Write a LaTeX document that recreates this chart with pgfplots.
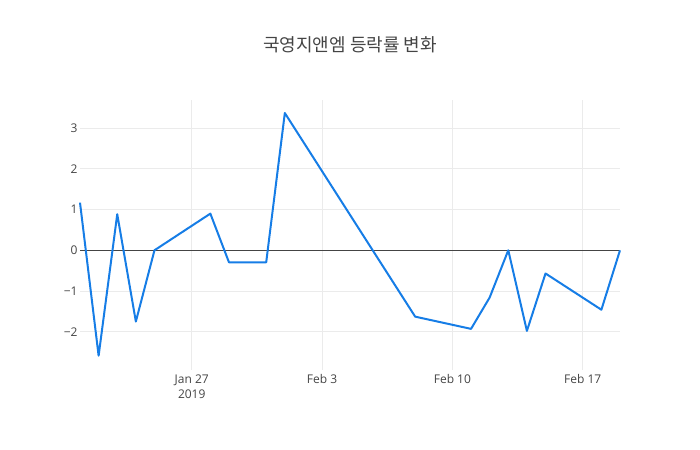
\documentclass[border=0pt]{standalone}
\usepackage{pgfplots}
\pgfplotsset{compat=1.18}
\usepackage{fontspec}
\setmainfont{Open Sans}
\newfontfamily\cjk{Noto Sans CJK KR}
\definecolor{linecol}{RGB}{22,125,230}
\definecolor{txt}{RGB}{68,68,68}
\definecolor{gridc}{RGB}{235,235,235}
\begin{document}
\begin{tikzpicture}[x=1bp,y=1bp]
\useasboundingbox (-80bp,-80bp) rectangle (620bp,370bp);
\node[font=\cjk\fontsize{18bp}{21bp}\selectfont, text=txt] at (270bp,325bp) {국영지앤엠 등락률 변화};
\begin{axis}[
  at={(0,0)}, anchor=south west,
  scale only axis, width=540bp, height=270bp,
  xmin=0, xmax=29, ymin=-2.94, ymax=3.69,
  axis line style={draw=none},
  tick style={draw=none},
  xtick={6,13,20,27},
  xticklabels={{Jan 27\\2019},{Feb 3},{Feb 10},{Feb 17}},
  xticklabel style={align=center, font=\fontsize{12bp}{15bp}\selectfont, text=txt, yshift=-1bp},
  ytick={-2,-1,0,1,2,3},
  yticklabels={−2,−1,0,1,2,3},
  yticklabel style={font=\fontsize{12bp}{14bp}\selectfont, text=txt, xshift=1bp},
  /pgf/number format/assume math mode=true,
  xmajorgrids, ymajorgrids,
  major grid style={draw=gridc, line width=0.8bp},
  clip=false,
]
\addplot[draw=txt, line width=0.8bp, forget plot] coordinates {(0,0) (29,0)};
\addplot[color=linecol, line width=2bp, mark=none, line join=round] coordinates {
(0,1.17) (1,-2.59) (2,0.885) (3,-1.75) (4,0) (7,0.90) (8,-0.295) (10,-0.295) (11,3.37)
(18,-1.63) (21,-1.93) (22,-1.16) (23,0) (24,-1.98) (25,-0.57) (28,-1.46) (29,0)
};
\end{axis}
\end{tikzpicture}
\end{document}
